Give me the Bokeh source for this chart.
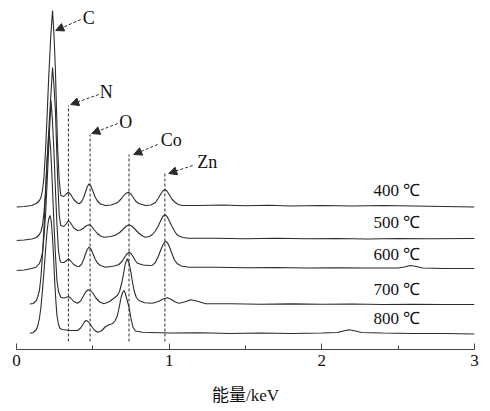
from bokeh.plotting import figure
from bokeh.models import (Range1d, FixedTicker, ColumnDataSource, Arrow, NormalHead,
                          LabelSet)
from bokeh.embed import file_html
from bokeh.resources import INLINE

# ---------------- data (energy in keV, intensity in arbitrary units incl. stacking offset)
x400 = [0.00, 0.05, 0.10, 0.13, 0.15, 0.16, 0.17, 0.18, 0.19, 0.20, 0.21, 0.225, 0.236, 0.247,
        0.255, 0.262, 0.27, 0.28, 0.29, 0.31, 0.325, 0.34, 0.355, 0.375, 0.395, 0.41,
        0.425, 0.44, 0.452, 0.463, 0.475, 0.487, 0.50, 0.515, 0.53, 0.55, 0.584,
        0.62, 0.66, 0.685, 0.70, 0.715, 0.733, 0.75, 0.765, 0.78, 0.80, 0.845,
        0.88, 0.91, 0.93, 0.945, 0.96, 0.972, 0.985, 1.00, 1.02, 1.04, 1.06, 1.086,
        1.2, 1.35, 1.5, 1.65, 1.8, 2.0, 2.2, 2.4, 2.6, 2.8, 3.0]
y400 = [142.5, 143, 144, 146, 149, 152, 159, 172, 199, 232, 269, 315, 339, 310,
        279, 240, 199, 169, 154, 153, 155.5, 157.3, 155, 150, 147, 145.7,
        147.5, 152, 157.5, 162.5, 165.7, 163.5, 158.5, 152.5, 148.5, 145.5, 144,
        144.5, 146.7, 150.5, 153.5, 156, 157.3, 155.5, 152, 148.5, 146, 144,
        144.5, 147, 151.5, 155.5, 158.8, 160, 158.5, 155, 150, 147, 145, 144,
        144, 144.5, 143.8, 144.3, 143.5, 144, 143.5, 144, 143.5, 143, 142.5]

x500 = [0.00, 0.05, 0.10, 0.13, 0.15, 0.16, 0.17, 0.18, 0.19, 0.20, 0.215, 0.236, 0.245, 0.255,
        0.262, 0.27, 0.28, 0.29, 0.31, 0.325, 0.34, 0.355, 0.375, 0.40,
        0.42, 0.44, 0.455, 0.475, 0.49, 0.51, 0.53, 0.55, 0.573,
        0.62, 0.65, 0.68, 0.70, 0.72, 0.737, 0.755, 0.775, 0.80, 0.825, 0.845,
        0.87, 0.89, 0.91, 0.93, 0.945, 0.958, 0.972, 0.985, 1.00, 1.015, 1.035, 1.05, 1.064,
        1.09, 1.128, 1.3, 1.5, 1.7, 1.9, 2.1, 2.3, 2.5, 2.7, 3.0]
y500 = [109, 109.5, 110.5, 112, 115, 118, 124, 137, 159, 188, 229, 282, 265, 239,
        205, 169, 134, 124, 123, 125.5, 129, 126.5, 121.5, 119,
        119.5, 121.5, 123.5, 124.7, 123.5, 119.5, 116, 113.5, 112.3,
        113, 114.5, 117.5, 120.5, 123.5, 124.7, 123.5, 120.5, 116.5, 113.5, 112.3,
        113, 115, 118.5, 124, 129, 133, 134.7, 133.3, 129, 124, 118.5, 115, 113.5,
        112, 111.3, 111.3, 110.8, 111.2, 110.7, 111, 110.5, 111, 110.8, 111]

x600 = [0.00, 0.05, 0.10, 0.13, 0.15, 0.16, 0.17, 0.18, 0.19, 0.20, 0.21, 0.226, 0.235, 0.245,
        0.255, 0.265, 0.275, 0.285, 0.29, 0.31, 0.325, 0.34, 0.355, 0.375, 0.395, 0.41,
        0.425, 0.44, 0.452, 0.463, 0.475, 0.487, 0.50, 0.515, 0.53, 0.55, 0.584,
        0.64, 0.671, 0.69, 0.705, 0.72, 0.737, 0.752, 0.767, 0.78, 0.792, 0.83, 0.87,
        0.89, 0.91, 0.93, 0.945, 0.96, 0.977, 0.99, 1.005, 1.02, 1.035, 1.054, 1.08, 1.128,
        1.3, 1.5, 1.7, 1.9, 2.1, 2.3, 2.5, 2.54, 2.58, 2.62, 2.66, 2.8, 3.0]
y600 = [79, 79.5, 81, 82.5, 86, 90, 97, 112, 134, 165, 199, 249, 230, 199,
        160, 125, 99, 89, 87.3, 87, 88.5, 90.7, 88.5, 85, 83.3, 83,
        85, 90, 95.5, 100, 102.3, 100.5, 96, 90.5, 86.5, 84, 82.3,
        83.5, 85, 88, 91.5, 95, 97.3, 95.5, 92, 88.5, 86.3, 84.5, 84,
        84.3, 87, 93.5, 99.5, 105, 108.3, 106.5, 101.5, 95, 89.5, 85.7, 83.5, 82.3,
        82.2, 81.8, 82, 81.5, 81.8, 81.5, 81.5, 82.5, 84, 83, 81.5, 81, 81]

x700 = [0.087, 0.11, 0.13, 0.14, 0.15, 0.16, 0.17, 0.18, 0.19, 0.20, 0.213, 0.224, 0.235, 0.245,
        0.255, 0.265, 0.275, 0.29, 0.31, 0.325, 0.34, 0.355, 0.375, 0.40,
        0.42, 0.44, 0.455, 0.47, 0.485, 0.50, 0.52, 0.545, 0.573,
        0.61, 0.64, 0.66, 0.675, 0.69, 0.70, 0.713, 0.726, 0.738, 0.75, 0.76, 0.77, 0.785,
        0.802, 0.84, 0.89, 0.93, 0.96, 0.988, 1.015, 1.04, 1.064,
        1.10, 1.141, 1.18, 1.239, 1.4, 1.6, 1.8, 2.0, 2.2, 2.4, 2.6, 2.8, 3.0]
y700 = [45.5, 46, 49, 53, 59, 72, 94, 122, 154, 188, 219, 200, 164, 127,
        95, 69, 58, 52.3, 51.5, 52, 53, 51.5, 48, 46.3,
        48.5, 54, 58, 59.7, 59, 56.5, 51.5, 47.5, 45.7,
        48, 51.5, 54, 58, 67, 75, 86, 90.7, 86, 77, 67, 59, 52,
        49, 46.8, 46.3, 48, 50.5, 51.7, 50, 47.5, 46.3,
        47.5, 49.7, 48.5, 45.7, 45.8, 45.3, 45.6, 45.2, 45.5, 45, 45.3, 45, 45]

x800 = [0.087, 0.11, 0.13, 0.14, 0.15, 0.16, 0.17, 0.18, 0.19, 0.20, 0.21, 0.22, 0.228, 0.235,
        0.243, 0.25, 0.258, 0.265, 0.275, 0.285, 0.30, 0.35,
        0.40, 0.42, 0.435, 0.447, 0.457, 0.468, 0.48, 0.495, 0.51, 0.53,
        0.555, 0.584, 0.61, 0.628, 0.645, 0.661, 0.675, 0.685, 0.695, 0.704, 0.713, 0.725,
        0.737, 0.75, 0.763, 0.78, 0.825,
        1.0, 1.2, 1.4, 1.6, 1.8, 2.0, 2.1, 2.14, 2.18, 2.22, 2.26, 2.4, 2.6, 2.8, 3.0]
y800 = [16.3, 17, 20, 24, 31, 42, 59, 78, 99, 118, 130, 134, 128, 114,
        92, 69, 48, 34, 25, 21, 20, 19,
        19, 21.5, 25, 28, 29, 28, 26, 22.5, 19.5, 17.3,
        18.5, 23, 25, 25.7, 28.5, 34, 44, 52, 57, 59, 56, 49,
        42.3, 31, 22.3, 18.5, 17.3,
        16.5, 16.8, 16, 16.5, 16, 16.5, 17, 18.5, 19.7, 18.5, 17, 16.5, 16, 16, 15.5]

series_x = [x400, x500, x600, x700, x800]
series_y = [y400, y500, y600, y700, y800]

temp_labels = ["400 \u2103", "500 \u2103", "600 \u2103", "700 \u2103", "800 \u2103"]
temp_label_x = [2.338, 2.338, 2.338, 2.338, 2.338]
temp_label_y = [159, 127, 95, 60, 31]

# element markers: dashed guide lines and arrows
elements = ["C", "N", "O", "Co", "Zn"]
elem_text_x = [0.473, 0.588, 0.715, 1.013, 1.249]
elem_text_y = [332, 258, 228, 209.5, 188]
arrow_x0 = [0.421, 0.539, 0.663, 0.925, 1.154]
arrow_y0 = [330, 255, 226, 205, 184]
arrow_x1 = [0.257, 0.355, 0.493, 0.768, 0.997]
arrow_y1 = [319, 245, 216, 195, 176]
guide_x = [0.34, 0.482, 0.737, 0.972]
guide_top = [244, 215, 195, 176]
guide_bottom = [8, 8, 8, 8]

x_ticks = [0, 1, 2, 3]
x_minor = [0.5, 1.5, 2.5]
x_label = "能量/keV"

SERIF = "'Liberation Serif', 'Noto Sans CJK SC'"
INK = "#2b2b2b"

p = figure(width=490, height=411, output_backend="svg", toolbar_location=None,
           x_range=Range1d(0, 3), y_range=Range1d(0, 349),
           min_border_left=16, min_border_right=16, min_border_top=0, min_border_bottom=62)
p.outline_line_color = None
p.background_fill_color = "white"
p.border_fill_color = "white"
p.xgrid.visible = False
p.ygrid.visible = False
p.yaxis.visible = False

ax = p.xaxis[0]
ax.ticker = FixedTicker(ticks=x_ticks, minor_ticks=x_minor)
ax.axis_label = x_label
ax.axis_label_text_font = SERIF
ax.axis_label_text_font_style = "normal"
ax.axis_label_text_font_size = "17px"
ax.axis_label_text_color = "#111111"
ax.axis_label_standoff = 17
ax.major_label_text_font = SERIF
ax.major_label_text_font_size = "17px"
ax.major_label_text_color = "#111111"
ax.major_label_standoff = 5
ax.major_tick_in = 6
ax.major_tick_out = 0
ax.minor_tick_in = 4
ax.minor_tick_out = 0
ax.axis_line_color = "#444444"
ax.major_tick_line_color = "#444444"
ax.minor_tick_line_color = "#444444"

# dashed guide lines
p.segment(x0=guide_x, y0=guide_bottom, x1=guide_x, y1=guide_top,
          line_color=INK, line_width=1, line_dash="3 2")

# spectra
for xs, ys in zip(series_x, series_y):
    p.line(xs, ys, line_color=INK, line_width=1.1)

# temperature labels
tsrc = ColumnDataSource(dict(x=temp_label_x, y=temp_label_y, t=temp_labels))
p.add_layout(LabelSet(x="x", y="y", text="t", source=tsrc, text_font=SERIF,
                      text_font_size="17px", text_color="#111111",
                      text_align="left", text_baseline="middle"))

# element labels
esrc = ColumnDataSource(dict(x=elem_text_x, y=elem_text_y, t=elements))
p.add_layout(LabelSet(x="x", y="y", text="t", source=esrc, text_font=SERIF,
                      text_font_size="18px", text_color="#111111",
                      text_align="center", text_baseline="middle"))

# arrows
asrc = ColumnDataSource(dict(x0=arrow_x0, y0=arrow_y0, x1=arrow_x1, y1=arrow_y1))
p.add_layout(Arrow(x_start="x0", y_start="y0", x_end="x1", y_end="y1", source=asrc,
                   line_color=INK, line_width=1, line_dash="3 2",
                   end=NormalHead(size=8, fill_color=INK, line_color=INK, line_width=1)))

open("out.html", "w").write(file_html(p, INLINE))
